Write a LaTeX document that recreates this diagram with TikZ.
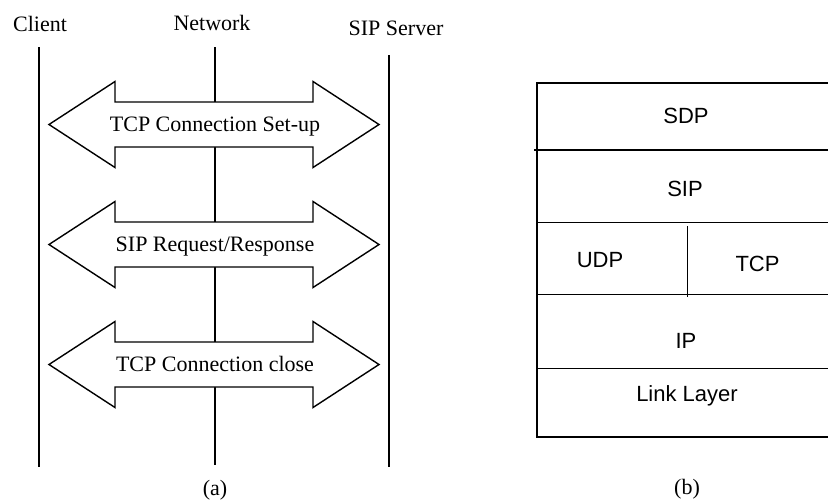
\documentclass[tikz,border=0pt]{standalone}
\usepackage{fontspec}
\setmainfont{Liberation Serif}
\setsansfont{Liberation Sans}
\usetikzlibrary{positioning}

\begin{document}
\begin{tikzpicture}[x=1pt,y=-1pt,line width=1.4pt,
    font=\fontsize{22}{26}\selectfont,
    msg/.style={draw, fill=white, line join=miter},
    proto/.style={font=\fontsize{22}{26}\selectfont\sffamily}]
  \useasboundingbox (0,0) rectangle (828,499);

  % (a) message flow
  \node[anchor=base] (client) at (40,31.7) {Client};
  \node[anchor=base] (net) at (212,30.7) {Network};
  \node[anchor=base] (server) at (396,35) {SIP Server};
  \coordinate (client-top) at (39,47);  \coordinate (client-bot) at (39,467);
  \coordinate (net-top) at (215,47);    \coordinate (net-bot) at (215,465);
  \coordinate (server-top) at (389,55); \coordinate (server-bot) at (389,467);
  \draw (client-top) -- (client-bot);
  \draw (net-top) -- (net-bot);
  \draw (server-top) -- (server-bot);

  \foreach \y/\name/\txt in {124.5/setup/{TCP Connection Set-up},
      244.5/req/{SIP Request/Response}, 364.5/close/{TCP Connection close}}{
    \draw[msg] (49,\y) -- (115,\y-43) -- (115,\y-22.5) -- (313,\y-22.5)
      -- (313,\y-43) -- (379,\y) -- (313,\y+43) -- (313,\y+22.5)
      -- (115,\y+22.5) -- (115,\y+43) -- cycle;
    \node[anchor=base] (\name) at (215,\y+6.8) {\txt};
  }
  \node (cap-a) at (215,490.5) {(a)};

  % (b) protocol stack
  \draw (537,83) rectangle (836,437);
  \draw (534,150) -- (836,150);
  \draw (537,222.7) -- (836,222.7);
  \draw (537,294.3) -- (836,294.3);
  \draw (537,368.3) -- (836,368.3);
  \draw (687.3,226) -- (687.3,297);
  \node[proto] (sdp) at (686,116) {SDP};
  \node[proto] (sip) at (685,189) {SIP};
  \node[proto] (udp) at (600,260.5) {UDP};
  \node[proto] (tcp) at (757.5,264) {TCP};
  \node[proto] (ip) at (686,340.5) {IP};
  \node[proto] (link) at (687,396) {Link Layer};
  \node (cap-b) at (687,489) {(b)};
\end{tikzpicture}
\end{document}
